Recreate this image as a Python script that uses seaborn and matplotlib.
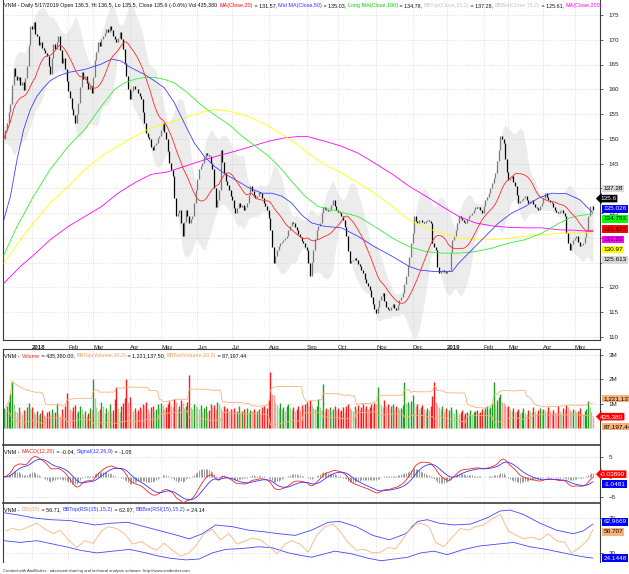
import numpy as np
import pandas as pd
import matplotlib
matplotlib.use("Agg")
import matplotlib.pyplot as plt
import matplotlib.transforms as mtransforms
import seaborn as sns

# daily closes, VNM, 7 Dec 2017 .. 17 May 2019 (one row per month)
close = [
    150.0, 151.8, 153.2, 155.4, 157.0, 160.8, 164.2, 162.6, 161.8, 162.5, 160.9, 161.4, 159.8, 162.3, 164.7, 168.9, 172.8,
    172.1, 173.5, 171.2, 170.8, 169.0, 169.6, 168.4, 168.0, 167.3, 166.7, 164.6, 163.0, 166.4, 169.1, 168.2, 169.5, 170.8, 167.9, 165.4, 166.3, 164.0, 161.6,
    159.6, 158.3, 156.0, 154.8, 153.2, 155.1, 157.3, 160.4, 163.4, 162.1, 162.7, 161.3, 160.0, 160.6, 159.3,
    162.5, 166.0, 167.6, 169.5, 168.7, 170.2, 170.8, 171.4, 172.2, 171.5, 172.8, 171.9, 170.8, 170.1, 169.5, 170.4, 171.5, 170.1, 168.1, 165.4, 162.7, 160.1,
    158.0, 159.6, 160.7, 160.1, 160.0, 159.2, 158.6, 158.0, 155.4, 153.1, 151.2, 150.4, 149.9, 148.4, 147.8, 148.7, 149.2, 150.1, 150.5,
    151.8, 153.2, 151.4, 149.9, 147.6, 145.1, 143.6, 142.4, 138.1, 134.3, 135.1, 135.7, 133.0, 130.3, 133.2, 135.7, 134.3, 133.0, 133.7, 134.3, 137.1, 139.7,
    141.8, 143.8, 144.4, 145.1, 146.3, 147.2, 146.7, 146.5, 145.1, 143.8, 140.1, 136.3, 137.6, 139.7, 147.8, 145.4, 143.1, 141.4, 140.6, 139.7, 138.4,
    137.7, 136.1, 135.0, 136.0, 137.0, 136.3, 136.7, 135.7, 136.2, 137.0, 138.6, 140.4, 139.4, 138.7, 138.1, 138.4, 139.3, 139.0, 138.0, 137.0, 136.4, 135.7,
    134.0, 131.6, 128.1, 124.9, 126.4, 127.6, 128.3, 128.9, 129.1, 129.6, 130.0, 130.3, 131.5, 132.4, 133.2, 133.0, 132.2, 131.6, 130.8, 130.1, 129.4, 128.9, 128.2,
    127.6, 124.9, 122.2, 125.1, 127.6, 129.8, 131.6, 132.4, 133.0, 135.1, 136.3, 135.9, 135.7, 135.4, 135.7, 136.6, 137.7, 136.4, 135.7,
    135.2, 135.0, 134.3, 133.6, 132.1, 130.3, 127.4, 124.9, 125.3, 125.5, 125.9, 125.5, 124.7, 124.2, 123.4, 122.8, 121.7, 120.8, 120.3, 119.5, 118.0, 116.7, 115.6,
    114.7, 116.1, 117.4, 118.3, 118.8, 117.3, 116.1, 115.7, 115.4, 116.1, 116.7, 115.9, 115.4, 116.5, 117.4, 118.1, 118.8, 120.6, 122.2, 124.4, 126.2, 128.9,
    131.0, 134.3, 133.4, 133.0, 133.5, 133.6, 133.1, 133.0, 133.4, 133.6, 133.3, 133.0, 128.9, 128.1, 127.6, 124.1, 122.8, 123.3, 123.5, 123.0, 122.8,
    123.2, 123.5, 127.1, 129.6, 130.4, 131.6, 133.0, 134.3, 134.0, 133.6, 133.1, 133.0, 133.7, 134.3, 134.6, 135.0, 135.7, 136.3, 136.0, 136.3, 135.6, 135.0,
    136.4, 137.7, 138.2, 139.0, 140.1, 141.1, 142.0, 143.1, 145.6, 147.8, 150.5, 150.0, 149.2, 146.0, 143.3,
    141.7, 142.0, 142.4, 141.3, 140.4, 138.7, 137.0, 137.5, 137.7, 138.1, 138.4, 137.6, 137.0, 137.4, 137.7, 136.9, 136.3, 136.0, 135.7, 136.4, 137.0,
    138.1, 139.0, 138.2, 137.7, 137.3, 137.0, 136.3, 135.7, 135.2, 135.0, 135.4, 135.7, 135.0, 134.3, 131.0, 128.9, 127.6, 128.7, 129.6,
    130.0, 130.3, 129.2, 128.3, 128.6, 128.9, 130.1, 131.6, 134.3, 136.5, 136.4, 135.6,
]

# daily volume, thousands of shares
volume_k = [
    820, 760, 910, 1050, 1380, 1900, 980, 720, 640, 850, 700, 580, 760, 690, 880, 1020, 790,
    860, 640, 560, 690, 520, 610, 740, 540, 480, 650, 700, 530, 780, 620, 670, 980, 570, 510, 770, 640, 890, 1460,
    1100, 790, 680, 850, 940, 630, 720, 900, 770, 570, 700, 510, 620, 820, 740,
    2000, 1250, 860, 690, 780, 1080, 890, 610, 840, 720, 990, 640, 760, 1180, 1700, 810, 640, 910, 1010, 1240, 2000, 1060,
    1260, 910, 720, 830, 640, 760, 860, 730, 990, 940, 1080, 800, 630, 870, 900, 700, 780, 970, 840,
    1030, 940, 770, 860, 980, 1110, 940, 870, 1180, 1050, 790, 890, 1140, 1010, 830, 920, 1060, 2200, 860, 800, 990, 910,
    860, 770, 940, 710, 830, 890, 640, 740, 990, 860, 930, 800, 1080, 970, 810, 720, 890, 770, 840, 680, 790,
    750, 830, 650, 700, 900, 620, 720, 790, 670, 840, 640, 740, 690, 800, 630, 710, 780, 600, 860, 910, 720, 820,
    1150, 2300, 1400, 1350, 1050, 940, 830, 1040, 770, 870, 710, 920, 980, 810, 750, 850, 690, 790, 900, 740, 940, 820, 990,
    1080, 900, 1160, 960, 840, 780, 920, 1200, 860, 750, 1800, 700, 810, 770, 870, 680, 790, 890, 730,
    830, 700, 760, 860, 650, 890, 1000, 840, 780, 720, 910, 800, 940, 750, 850, 970, 810, 910, 770, 870, 980, 920, 1040,
    990, 1700, 1060, 950, 860, 1140, 900, 1000, 790, 890, 970, 810, 920, 870, 780, 840, 940, 1900, 1020, 1080, 960, 1120,
    1360, 1040, 910, 990, 790, 870, 930, 770, 700, 830, 750, 890, 1330, 1900, 1050, 940, 860, 800, 900, 720, 810,
    650, 760, 860, 700, 600, 780, 670, 570, 640, 730, 540, 630, 670, 590, 750, 560, 650, 700, 740, 610, 660, 780,
    720, 820, 910, 780, 870, 970, 1900, 940, 1140, 1260, 1390, 1070, 1010, 940, 860,
    900, 770, 720, 820, 640, 690, 780, 600, 670, 840, 630, 580, 750, 680, 640, 860, 700, 620, 760, 810, 680,
    790, 730, 640, 870, 690, 600, 750, 670, 630, 910, 720, 560, 820, 770, 930, 860, 730, 680, 780,
    740, 650, 690, 830, 600, 560, 700, 790, 1100, 870, 640, 435.38,
]

# long moving averages: bar number -> value
ma50_bar = [0, 4, 8, 12, 16, 20, 24, 28, 33, 39, 49, 59, 65, 71, 75, 79, 85, 91, 97, 103, 109, 115, 121, 127, 134, 140,
            148, 156, 162, 168, 174, 180, 186, 194, 204, 214, 224, 235, 245, 251, 259, 265, 271, 275, 283, 291, 299, 307,
            315, 323, 331, 340, 348, 354, 356]
ma50_val = [133.6, 138.4, 145.8, 151.9, 155.9, 158.6, 160.3, 161.7, 162.7, 163.4, 164.0, 165.1, 166.1, 165.7, 164.7,
            164.0, 163.0, 161.7, 160.3, 157.3, 153.2, 149.2, 146.5, 144.5, 142.8, 141.7, 140.1, 139.0, 139.0, 138.4,
            137.0, 134.6, 133.0, 132.3, 132.0, 130.3, 128.2, 126.2, 124.2, 123.5, 123.2, 123.2, 123.2, 124.9, 127.6,
            130.3, 133.0, 135.0, 136.3, 138.0, 139.0, 138.9, 137.7, 135.7, 135.03]
ma100_bar = [0, 8, 18, 28, 39, 49, 59, 67, 73, 79, 85, 91, 97, 103, 111, 119, 127, 136, 144, 152, 160, 168, 174, 182,
             190, 198, 206, 214, 224, 235, 245, 255, 265, 275, 285, 295, 305, 315, 325, 336, 342, 348, 356]
ma100_val = [126.5, 132.3, 138.4, 143.8, 148.5, 151.9, 156.6, 160.0, 161.3, 162.0, 162.4, 162.4, 162.0, 161.3, 159.3,
             156.9, 154.9, 152.9, 150.5, 148.5, 146.5, 143.8, 141.4, 138.4, 136.3, 135.7, 135.0, 134.3, 132.3, 129.9,
             128.2, 127.2, 126.9, 126.9, 127.2, 127.9, 128.9, 129.6, 130.9, 133.0, 134.0, 134.5, 134.78]
ma150_bar = [0, 10, 18, 28, 39, 49, 59, 69, 79, 89, 99, 109, 119, 127, 136, 144, 152, 160, 168, 174, 184, 194, 204,
             214, 224, 235, 245, 255, 265, 275, 285, 295, 305, 315, 325, 336, 346, 356]
ma150_val = [124.9, 129.6, 133.0, 137.0, 140.4, 143.8, 146.5, 148.5, 150.5, 152.2, 153.2, 154.2, 155.3, 155.9, 155.6,
             154.9, 153.9, 152.6, 150.9, 149.7, 147.1, 144.8, 143.1, 141.1, 139.0, 136.3, 133.6, 132.0, 130.9, 129.9,
             129.6, 129.6, 129.9, 130.3, 130.6, 130.9, 131.1, 130.97]
ma200_bar = [0, 10, 18, 28, 39, 49, 59, 69, 79, 89, 99, 109, 119, 129, 140, 150, 160, 170, 180, 184, 194, 204, 214,
             224, 235, 245, 255, 265, 275, 285, 295, 305, 315, 325, 336, 346, 356]
ma200_val = [120.8, 124.2, 126.5, 129.6, 132.3, 134.3, 136.3, 139.0, 141.1, 142.8, 143.3, 144.4, 145.5, 146.5, 147.5,
             148.5, 149.5, 150.2, 150.5, 150.4, 149.5, 148.5, 147.1, 145.1, 142.8, 140.4, 138.4, 136.3, 134.3, 133.0,
             132.4, 132.1, 132.0, 132.0, 131.6, 131.5, 131.23]

rsi_bar = [1, 5, 10, 15, 20, 25, 30, 34, 39, 44, 49, 54, 59, 63, 68, 73, 78, 83, 88, 92, 97, 102, 107, 112, 116,
           121, 126, 131, 136, 141, 145, 150, 155, 160, 165, 170, 174, 179, 184, 189, 194, 199, 203, 208, 213, 218,
           223, 228, 232, 237, 242, 247, 252, 257, 261, 266, 271, 276, 281, 285, 290, 295, 300, 305, 310, 314, 319,
           324, 329, 334, 339, 343, 348, 353, 356]
rsi_val = [55, 58, 56, 60, 64, 57, 52, 56, 45, 36, 44, 41, 55, 60, 58, 52, 40, 43, 37, 33, 41, 33, 26, 30, 38,
           52, 57, 45, 52, 40, 43, 47, 45, 38, 29, 40, 44, 40, 31, 50, 60, 63, 55, 42, 33, 34,
           30, 31, 36, 35, 48, 62, 64, 60, 42, 37, 48, 58, 56, 60, 62, 69, 74, 55, 50, 46, 48,
           45, 52, 44, 42, 30, 36, 45, 56.71]
rsi_top_bar = [0, 10, 18, 28, 40, 55, 65, 75, 85, 95, 105, 112, 120, 128, 138, 148, 158, 166, 176, 186, 196, 203,
               213, 223, 233, 243, 250, 256, 263, 272, 282, 292, 300, 306, 314, 324, 334, 344, 350, 356]
rsi_top_val = [76, 73, 70, 68, 67, 62, 64, 65, 60, 55, 50, 46, 52, 62, 60, 56, 54, 52, 50, 56, 65, 66,
               60, 50, 45, 52, 66, 68, 64, 62, 63, 70, 78, 79, 74, 64, 56, 52, 55, 62.97]
rsi_bot_bar = [0, 10, 20, 30, 40, 46, 56, 66, 76, 86, 92, 100, 110, 118, 126, 134, 144, 154, 162, 172, 180, 186,
               192, 200, 210, 220, 228, 236, 244, 252, 260, 268, 278, 288, 298, 308, 318, 328, 338, 346, 352, 356]
rsi_bot_val = [44, 42, 44, 40, 36, 33, 30, 32, 34, 30, 27, 24, 22, 23, 30, 34, 35, 37, 36, 30, 27, 25,
               28, 32, 29, 24, 21, 23, 25, 30, 32, 28, 34, 38, 40, 42, 37, 34, 30, 27, 25, 24.14]

# values shown in the right-hand boxes
price_tags = [137.28, 135.6, 135.026, 134.783, 131.575, 131.23, 130.97, 125.613]
price_tag_text = ["137.28", "135.6", "135.026", "134.783", "131.575", "131.23", "130.97", "125.613"]
vol_tags = [1.22113750, 0.43538, 0.08719744]
vol_tag_text = ["1,221,137.5", "435,380", "87,197.44"]
macd_tags = [-0.03899, -1.0481]
macd_tag_text = ["-0.03899", "-1.0481"]
rsi_tags = [62.9669, 56.707, 24.1448]
rsi_tag_text = ["62.9669", "56.707", "24.1448"]

holidays = ["2018-01-01", "2018-02-14", "2018-02-15", "2018-02-16", "2018-02-19", "2018-02-20",
            "2018-04-25", "2018-04-30", "2018-05-01", "2018-09-03", "2019-01-01", "2019-02-04",
            "2019-02-05", "2019-02-06", "2019-02-07", "2019-02-08", "2019-04-15", "2019-04-29",
            "2019-04-30", "2019-05-01"]

days = pd.bdate_range("2017-12-07", "2019-05-17")
days = days[~days.isin(pd.to_datetime(holidays))]
assert len(days) == len(close) == len(volume_k), (len(days), len(close), len(volume_k))

sns.set_style("white")
plt.rcParams["font.family"] = ["Liberation Sans Narrow", "Liberation Sans", "DejaVu Sans"]

n = len(close)
bars = np.arange(n)
c = pd.Series(close, dtype=float)
opn = c.shift(1).fillna(c.iloc[0])
up = (c >= opn).values

ma20 = c.rolling(20, min_periods=1).mean()
bb_mid = c.rolling(15, min_periods=2).mean()
bb_sd = c.rolling(15, min_periods=2).std(ddof=0)
bb_top = (bb_mid + 2 * bb_sd).bfill()
bb_bot = (bb_mid - 2 * bb_sd).bfill()

vol = pd.Series(volume_k, dtype=float) / 1000.0
v_mid = vol.rolling(20, min_periods=2).mean()
v_sd = vol.rolling(20, min_periods=2).std(ddof=0)
v_top = v_mid + 2 * v_sd
v_bot = v_mid - 2 * v_sd

macd = c.ewm(span=12, adjust=False).mean() - c.ewm(span=26, adjust=False).mean()
signal = macd.ewm(span=9, adjust=False).mean()
hist = macd - signal

W, H = 629, 574
fig = plt.figure(figsize=(W / 100, H / 100), dpi=100)


def rect(x0, y0, x1, y1):
    return [x0 / W, 1 - y1 / H, (x1 - x0) / W, (y1 - y0) / H]


ax_p = fig.add_axes(rect(3, 0, 600, 340))
ax_v = fig.add_axes(rect(3, 349, 600, 445), sharex=ax_p)
ax_m = fig.add_axes(rect(3, 446, 600, 503), sharex=ax_p)
ax_r = fig.add_axes(rect(3, 504, 600, 562), sharex=ax_p)
axes = [ax_p, ax_v, ax_m, ax_r]

SPINE = "#3c3c3c"
GRID = "#c8c8c8"
for ax in axes:
    ax.set_facecolor("white")
    for s in ax.spines.values():
        s.set_color(SPINE)
        s.set_linewidth(0.8)
    ax.spines["top"].set_visible(False)
    ax.spines["bottom"].set_visible(False)
    ax.yaxis.tick_right()
    ax.tick_params(axis="y", labelsize=4.5, length=2, width=0.5, pad=4, colors="#222222")
    ax.grid(True, color=GRID, linestyle=(0, (1, 2)), linewidth=0.5)
    ax.set_axisbelow(True)
ax_p.spines["bottom"].set_visible(True)
ax_v.spines["top"].set_visible(True)
ax_v.spines["bottom"].set_visible(True)
ax_m.spines["bottom"].set_visible(True)
ax_v.spines["bottom"].set_linewidth(1.2)
ax_m.spines["bottom"].set_linewidth(1.2)

# ---- price pane
ax_p.fill_between(bars, bb_bot, bb_top, color="#ececec", lw=0, zorder=0)
ax_p.vlines(bars[up], opn[up], c[up], color="#7a7a7a", lw=0.9, zorder=3)
ax_p.vlines(bars[~up], c[~up], opn[~up], color="black", lw=0.9, zorder=3)
lw = 0.6
sns.lineplot(x=ma200_bar, y=ma200_val, ax=ax_p, color="#ff00ff", lw=lw, estimator=None, zorder=4)
sns.lineplot(x=ma150_bar, y=ma150_val, ax=ax_p, color="#ffff00", lw=lw, estimator=None, zorder=4)
sns.lineplot(x=ma100_bar, y=ma100_val, ax=ax_p, color="#33ee33", lw=lw, estimator=None, zorder=4)
sns.lineplot(x=ma50_bar, y=ma50_val, ax=ax_p, color="#4040ff", lw=lw, estimator=None, zorder=4)
sns.lineplot(x=bars, y=ma20, ax=ax_p, color="#ff2a2a", lw=lw, estimator=None, zorder=4)
ax_p.set_ylim(175 - (340 - 15) / 4.95, 175 + 15 / 4.95)
ax_p.set_yticks(np.arange(110, 176, 5))
ax_p.set_xlim(-0.5, 360.3)

month_first = [i for i in range(1, n) if days[i].month != days[i - 1].month]
month_lab = [str(days[i].year) if days[i].month == 1 else days[i].strftime("%b") for i in month_first]
ax_p.set_xticks(month_first)
ax_p.set_xticklabels(month_lab)
ax_p.tick_params(axis="x", labelsize=4.3, length=3, width=0.5, pad=0.5, colors="#222222", direction="out")
for t, lab in zip(ax_p.get_xticklabels(), month_lab):
    t.set_ha("left")
    if lab.isdigit():
        t.set_fontweight("bold")
for ax in axes[1:]:
    ax.tick_params(axis="x", length=0, labelbottom=False)

# ---- volume pane
vcol = []
for i in range(n):
    strong = i == 0 or vol[i] > vol[i - 1]
    if up[i]:
        vcol.append("#1f9f1f" if strong else "#9ad49a")
    else:
        vcol.append("#ff1a1a" if strong else "#ff9c9c")
ax_v.vlines(bars, 0, vol, colors=vcol, lw=1.0, zorder=2)
sns.lineplot(x=bars, y=v_top, ax=ax_v, color="#f7b27a", lw=0.6, estimator=None, zorder=3)
sns.lineplot(x=bars, y=v_bot, ax=ax_v, color="#f7b27a", lw=0.6, estimator=None, zorder=3)
ax_v.set_ylim(-(445 - 428) / 24.3, (428 - 349) / 24.3)
ax_v.set_yticks([1, 2, 3])
ax_v.set_yticklabels(["1M", "2M", "3M"])

# ---- MACD pane
ax_m.vlines(bars, 0, hist, color="#8a8a8a", lw=0.6, zorder=2)
sns.lineplot(x=bars, y=macd, ax=ax_m, color="#ff2020", lw=0.6, estimator=None, zorder=3)
sns.lineplot(x=bars, y=signal, ax=ax_m, color="#3535ff", lw=0.6, estimator=None, zorder=3)
ax_m.set_ylim(-(503 - 477) / 4, (477 - 446) / 4)
ax_m.set_yticks([-5, 0, 5])

# ---- RSI pane
sns.lineplot(x=rsi_top_bar, y=rsi_top_val, ax=ax_r, color="#4545ff", lw=0.6, estimator=None, zorder=3)
sns.lineplot(x=rsi_bot_bar, y=rsi_bot_val, ax=ax_r, color="#4545ff", lw=0.6, estimator=None, zorder=3)
sns.lineplot(x=rsi_bar, y=rsi_val, ax=ax_r, color="#f8b47c", lw=0.6, estimator=None, zorder=4)
ax_r.set_ylim(30 - 9.1 / 0.874, 30 + 48.9 / 0.874)
ax_r.set_yticks([30, 70])

for ax in axes:
    ax.set_xlabel("")
    ax.set_ylabel("")
    if ax.get_legend():
        ax.get_legend().remove()


# ---- right-hand value tags
def spread(vals, gap):
    order = sorted(range(len(vals)), key=lambda k: -vals[k])
    groups = []
    for k in order:
        groups.append([k])
        while len(groups) > 1:
            a, b = groups[-2], groups[-1]
            ca = np.mean([vals[m] for m in a])
            cb = np.mean([vals[m] for m in b])
            if (ca - (len(a) - 1) / 2 * gap) - (cb + (len(b) - 1) / 2 * gap) < gap:
                groups[-2:] = [a + b]
            else:
                break
    pos = {}
    for g in groups:
        cen = np.mean([vals[m] for m in g])
        for j, m in enumerate(g):
            pos[m] = cen + ((len(g) - 1) / 2 - j) * gap
    return [pos[k] for k in range(len(vals))]


def tags(ax, vals, texts, styles, gap):
    tr = mtransforms.blended_transform_factory(ax.transAxes, ax.transData)
    for y, s, (fc, tc, arrow) in zip(spread(vals, gap), texts, styles):
        box = "larrow,pad=0.2" if arrow else "square,pad=0.2"
        ax.text(1.0 if arrow else 1.006, y, s, transform=tr, fontsize=4.6, color=tc, ha="left", va="center",
                clip_on=False, zorder=20, bbox=dict(boxstyle=box, fc=fc, ec="none"))


tags(ax_p, price_tags, price_tag_text,
     [("#d8d8d8", "black", False), ("black", "white", True), ("#0000ff", "white", False),
      ("#00ff00", "black", False), ("#ff0000", "black", False), ("#ff00ff", "black", False),
      ("#ffff00", "black", False), ("#d8d8d8", "black", False)], 10.2 / 4.95)
tags(ax_v, vol_tags, vol_tag_text,
     [("#f7b27a", "black", False), ("#ff0000", "white", True), ("#f7b27a", "black", False)], 10 / 24.3)
tags(ax_m, macd_tags, macd_tag_text, [("#ff0000", "white", True), ("#0000ff", "white", False)], 10 / 4)
tags(ax_r, rsi_tags, rsi_tag_text,
     [("#0000ff", "white", False), ("#f7b27a", "black", False), ("#0000ff", "white", False)], 10 / 0.874)

# ---- multi-coloured pane titles
renderer = fig.canvas.get_renderer()


def rainbow(ax, y, parts, size):
    prop = matplotlib.font_manager.FontProperties(family=plt.rcParams["font.family"], size=size)
    w0 = renderer.get_text_width_height_descent("xx", prop, ismath=False)[0]
    tr = mtransforms.offset_copy(ax.transAxes, x=1.5, y=0, units="dots")
    for s, col in parts:
        ax.text(0, y, s, transform=tr, fontproperties=prop, color=col, ha="left", va="center", zorder=30)
        w = renderer.get_text_width_height_descent("x" + s + "x", prop, ismath=False)[0] - w0
        tr = mtransforms.offset_copy(tr, x=w, y=0, units="dots")


K = "#111111"
rainbow(ax_p, 1 - 6 / 340, [
    ("VNM - Daily 5/17/2019 Open 136.5, Hi 136.5, Lo 135.5, Close 135.6 (-0.6%) Vol 435,380 ", K),
    ("MA(Close,20)", "#ff0000"), (" = 131.57, ", K), ("Mid MA(Close,50)", "#3333ff"), (" = 135.03, ", K),
    ("Long MA(Close,100)", "#00d000"), (" = 134.78, ", K), ("BBTop(Close,15,2)", "#c4c4c4"), (" = 137.28, ", K),
    ("BBBot(Close,15,2)", "#c4c4c4"), (" = 125.61, ", K), ("MA(Close,200)", "#ff00ff")], 3.9)
TS = 3.85
rainbow(ax_v, 1 - 7 / 96, [
    ("VNM - ", K), ("Volume", "#ff2020"), (" = 435,380.00, ", K), ("BBTop(Volume,20,2)", "#f4a460"),
    (" = 1,221,137.50, ", K), ("BBBot(Volume,20,2)", "#f4a460"), (" = 87,197.44", K)], TS)
rainbow(ax_m, 1 - 6 / 57, [
    ("VNM - ", K), ("MACD(12,26)", "#ff2020"), (" = -0.04, ", K), ("Signal(12,26,9)", "#3535ff"),
    (" = -1.05", K)], TS)
rainbow(ax_r, 1 - 6 / 58, [
    ("VNM - ", K), ("RSI(15)", "#f4a460"), (" = 56.71, ", K), ("BBTop(RSI(15),15,2)", "#3535ff"),
    (" = 62.97, ", K), ("BBBot(RSI(15),15,2)", "#3535ff"), (" = 24.14", K)], TS)

fig.text(3 / W, 1 - 571 / H,
         "Created with AmiBroker - advanced charting and technical analysis software. http://www.amibroker.com",
         fontsize=2.95, color="#333333", ha="left", va="center")

fig.savefig("out.png", dpi=100)
